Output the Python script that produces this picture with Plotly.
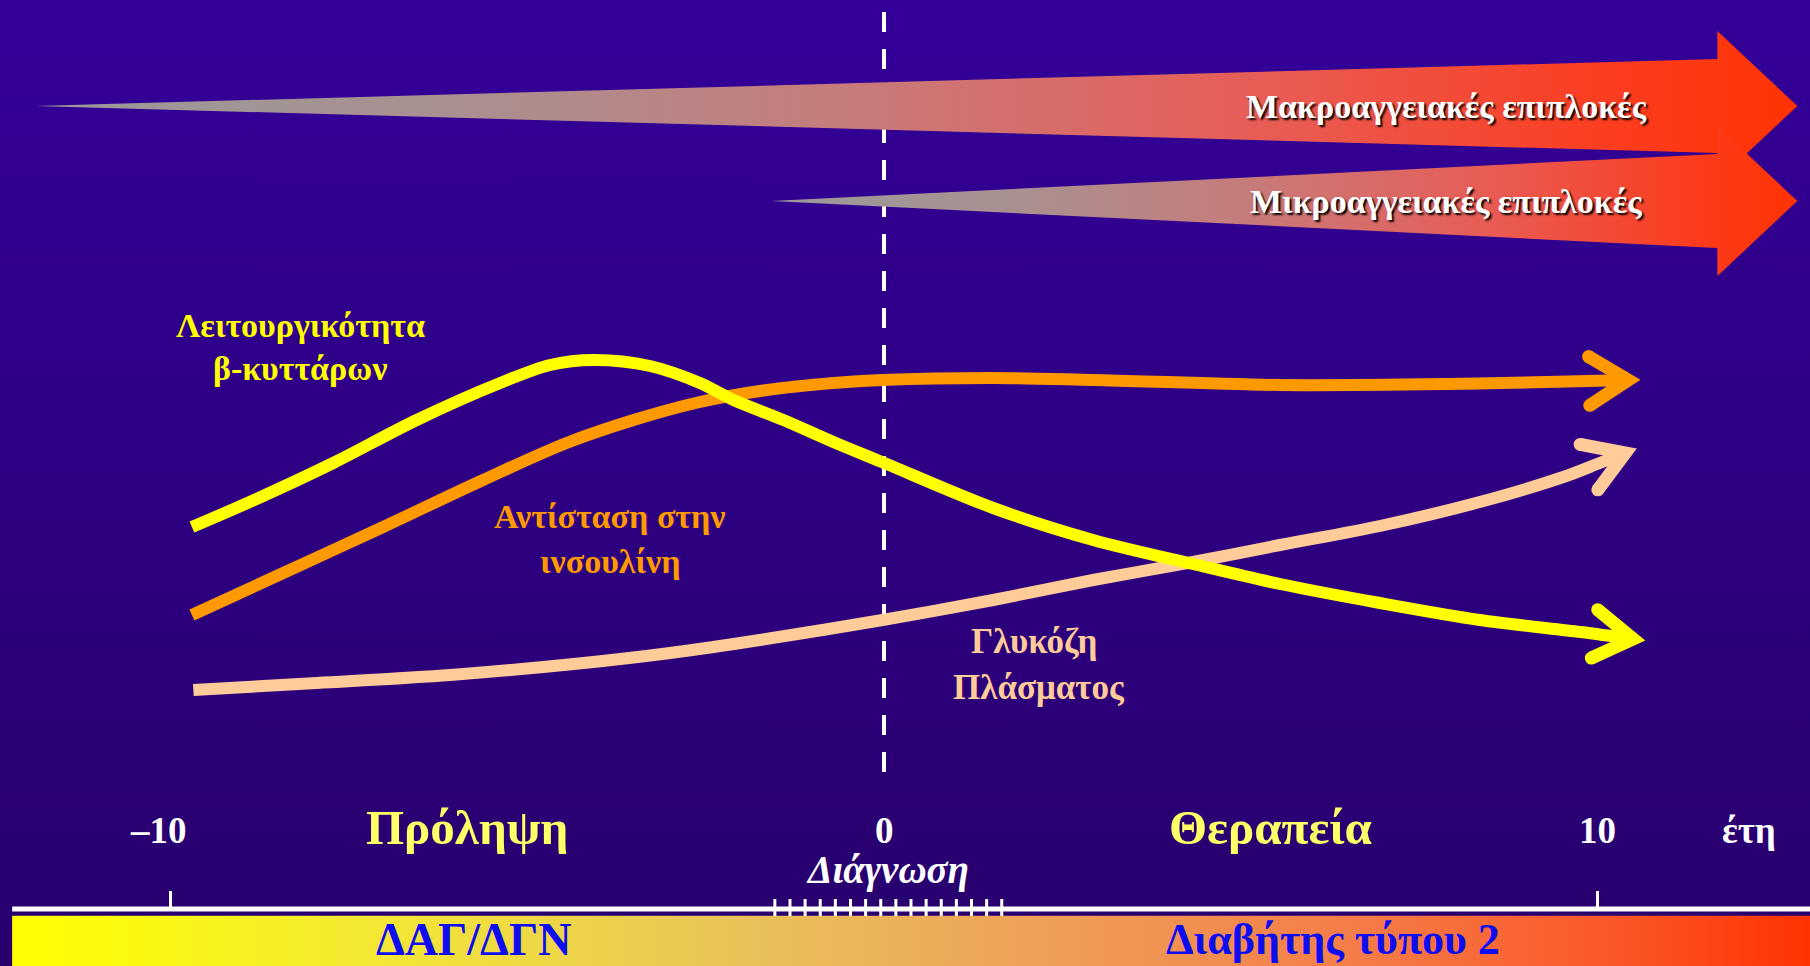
import numpy as np
import plotly.graph_objects as go

# ---------------- data (years relative to diagnosis, arbitrary level units) ----------------
years_beta = [-9.70, -8.89, -7.72, -6.55, -5.38, -4.68, -4.07, -3.28, -2.58, -2.11, -1.41,
              -0.71, -0.03, 1.53, 2.93, 4.33, 5.55, 6.95, 8.35, 9.76, 10.50]
beta_cell_function = [439, 464, 503, 546, 583, 601, 606, 600, 583, 566, 546,
                      524, 504, 458, 426, 402, 382, 363, 346, 334, 327]

years_resistance = [-9.70, -8.42, -7.02, -5.62, -4.45, -3.51, -2.58, -1.64, -0.71, -0.03,
                    1.53, 2.93, 5.55, 7.89, 9.29, 10.43]
insulin_resistance = [351, 393, 439, 486, 523, 546, 564, 576, 583, 586,
                      588, 586, 581, 582, 584, 586]

years_glucose = [-9.68, -7.95, -6.08, -4.21, -3.00, -1.74, -0.02, 1.53, 2.93, 4.33,
                 5.55, 6.95, 8.35, 9.52, 10.03, 10.39]
plasma_glucose = [276, 283, 291, 303, 313, 326, 346, 366, 386, 404,
                  421, 440, 464, 489, 503, 513]

complication_names = ["Μακροαγγειακές επιπλοκές", "Μικροαγγειακές επιπλοκές"]
complication_onset_years = [-11.90, -1.58]

year_tick_values = [-10, 0, 10]
year_tick_labels = ["–10", "0", "10"]
diagnosis_window = [-1.53, 1.65]
diagnosis_marks = 16

phase_names = ["Πρόληψη", "Θεραπεία"]
stage_names = ["ΔΑΓ/ΔΓΝ", "Διαβήτης τύπου 2"]

# ---------------- layout constants ----------------
W, H = 1810, 966
XMIN, XMAX = -12.39, 12.978
YMIN, YMAX = 0, 966
PX_X = W / (XMAX - XMIN)
PX_Y = H / (YMAX - YMIN)

FONT = "Liberation Serif, DejaVu Serif, serif"
BG_TOP, BG_BOTTOM = "#330099", "#28006c"
YELLOW, ORANGE, PEACH = "#ffff00", "#ff9900", "#ffcc99"
LINE_W = 12
HEAD_LEN = 46
HEAD_ANGLE = np.deg2rad(32)

fig = go.Figure()

# background gradient
fig.add_trace(go.Scatter(
    x=[XMIN, XMAX, XMAX, XMIN], y=[YMIN, YMIN, YMAX, YMAX], fill="toself", mode="none",
    fillgradient=dict(type="vertical", colorscale=[[0, BG_BOTTOM], [1, BG_TOP]]),
    hoverinfo="skip", showlegend=False))

# dashed diagnosis line
fig.add_trace(go.Scatter(
    x=[0, 0], y=[954, 187], mode="lines",
    line=dict(color="white", width=4, dash="20px,17px"),
    hoverinfo="skip", showlegend=False))

# complication arrows
arrow_scale = [[0, "#9a9a9a"], [0.25, "#aa8f8f"], [0.47, "#c87a7a"],
               [0.7, "#e85c55"], [0.9, "#fc3c1e"], [1, "#ff3300"]]
shaft_end, arrow_tip = 11.68, 12.80
arrow_levels = [860, 765]
shaft_half, head_half = 47, 75
for onset, lvl in zip(complication_onset_years, arrow_levels):
    xs = [onset, shaft_end, shaft_end, arrow_tip, shaft_end, shaft_end, onset]
    ys = [lvl, lvl + shaft_half, lvl + head_half, lvl, lvl - head_half, lvl - shaft_half, lvl]
    fig.add_trace(go.Scatter(
        x=xs, y=ys, fill="toself", mode="none",
        fillgradient=dict(type="horizontal", colorscale=arrow_scale),
        hoverinfo="skip", showlegend=False))


def chevron(xs, ys):
    x1, y1, x2, y2 = xs[-2], ys[-2], xs[-1], ys[-1]
    ang = np.arctan2((y2 - y1) * PX_Y, (x2 - x1) * PX_X)
    bx, by = [], []
    for s in (1, -1):
        a = ang + np.pi - s * HEAD_ANGLE
        bx.append(x2 + HEAD_LEN * np.cos(a) / PX_X)
        by.append(y2 + HEAD_LEN * np.sin(a) / PX_Y)
    return [bx[0], x2, bx[1]], [by[0], y2, by[1]]


for xs, ys, col in [(years_glucose, plasma_glucose, PEACH),
                    (years_resistance, insulin_resistance, ORANGE),
                    (years_beta, beta_cell_function, YELLOW)]:
    fig.add_trace(go.Scatter(
        x=xs, y=ys, mode="lines", line=dict(color=col, width=LINE_W, shape="spline", smoothing=0.9),
        hoverinfo="skip", showlegend=False))
    cx, cy = chevron(xs, ys)
    fig.add_trace(go.Scatter(
        x=cx, y=cy, mode="lines+markers", line=dict(color=col, width=LINE_W + 1),
        marker=dict(size=[LINE_W + 1, 0, LINE_W + 1], color=col, opacity=1,
                    line=dict(width=0, color=col)),
        hoverinfo="skip", showlegend=False))

# bottom timeline bar
line_start = -12.22
fig.add_trace(go.Scatter(
    x=[line_start, XMAX, XMAX, line_start], y=[0, 0, 50.3, 50.3], fill="toself", mode="none",
    fillgradient=dict(type="horizontal", colorscale=[
        [0, "#ffff00"], [0.2, "#f4e834"], [0.4, "#e8c458"], [0.57, "#eea058"],
        [0.75, "#f47c48"], [0.9, "#fb5424"], [1, "#ff3300"]]),
    hoverinfo="skip", showlegend=False))
# axis line
fig.add_trace(go.Scatter(
    x=[line_start, XMAX], y=[57, 57], mode="lines", line=dict(color="white", width=5),
    hoverinfo="skip", showlegend=False))
# tick marks at -10, 10
tx, ty = [], []
for v in year_tick_values:
    if v != 0:
        tx += [v, v, None]
        ty += [75, 58, None]
fig.add_trace(go.Scatter(x=tx, y=ty, mode="lines", line=dict(color="white", width=3),
                         hoverinfo="skip", showlegend=False))
# diagnosis hash marks
hx, hy = [], []
for v in np.linspace(diagnosis_window[0], diagnosis_window[1], diagnosis_marks):
    hx += [v, v, None]
    hy += [67, 50, None]
fig.add_trace(go.Scatter(x=hx, y=hy, mode="lines", line=dict(color="white", width=3),
                         hoverinfo="skip", showlegend=False))

ann = []


def label(x, y, text, size, color, shadow=None, xshift=0):
    f = dict(family=FONT, size=size, color=color)
    if shadow:
        f["shadow"] = shadow
    ann.append(dict(x=x, y=y, xref="x", yref="y", text=text, showarrow=False,
                    xanchor="center", yanchor="middle", font=f, xshift=xshift,
                    borderpad=0))


# arrow labels
for name, lvl in zip(complication_names, arrow_levels):
    label(7.88, lvl, f"<b>{name}</b>", 34, "white", shadow="2px 2px 2px #000000")

# curve labels
label(-8.18, 641, "<b>Λειτουργικότητα</b>", 34, YELLOW)
label(-8.18, 598, "<b>β-κυττάρων</b>", 34, YELLOW)
label(-3.84, 450, "<b>Αντίσταση στην</b>", 34, ORANGE)
label(-3.83, 405, "<b>ινσουλίνη</b>", 34, ORANGE)
label(2.10, 325, "<b>Γλυκόζη</b>", 35, PEACH)
label(2.17, 279, "<b>Πλάσματος</b>", 35, PEACH)

# year labels
for v, t in zip(year_tick_values, year_tick_labels):
    label(v, 136, f"<b>{t}</b>", 37, "white", xshift=-12 if v < 0 else 0)
label(12.12, 136, "<b>έτη</b>", 37, "white")
label(-5.84, 139, f"<b>{phase_names[0]}</b>", 49, "#ffff66")
label(5.41, 139, f"<b>{phase_names[1]}</b>", 49, "#ffff66")
label(0.05, 96, "<b><i>Διάγνωση</i></b>", 39, "white")
label(-5.76, 27, f"<b>{stage_names[0]}</b>", 46, "#0d0df0")
label(6.29, 27, f"<b>{stage_names[1]}</b>", 44, "#0d0df0")

fig.update_layout(
    width=W, height=H, autosize=False,
    margin=dict(l=0, r=0, t=0, b=0, pad=0),
    paper_bgcolor=BG_TOP, plot_bgcolor=BG_TOP,
    xaxis=dict(range=[XMIN, XMAX], visible=False, fixedrange=True),
    yaxis=dict(range=[YMIN, YMAX], visible=False, fixedrange=True),
    annotations=ann, showlegend=False,
)

fig.write_html("out.html", config={"displayModeBar": False})
